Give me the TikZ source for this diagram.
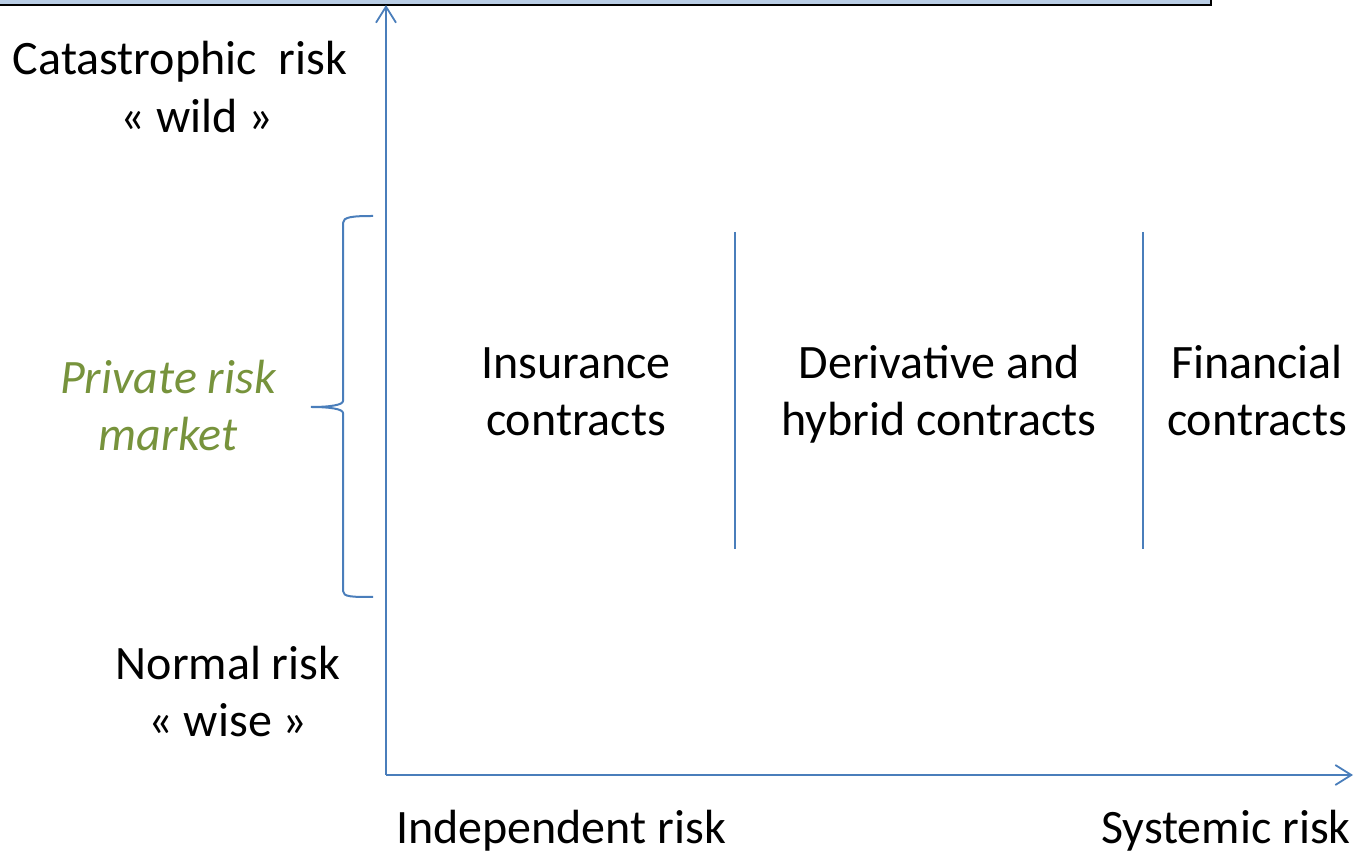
\documentclass[tikz,border=0pt]{standalone}
\usepackage{fontspec}
\setmainfont{Carlito}
\usetikzlibrary{arrows.meta}
\definecolor{axblue}{RGB}{74,126,187}
\definecolor{dgreen}{RGB}{119,147,60}
\definecolor{boxblue}{RGB}{185,205,229}
\tikzset{
  lbl/.style={anchor=base, inner sep=0pt, align=center, font=\fontsize{24}{28.5}\selectfont},
  axis/.style={axblue, line width=0.9pt, -{Straight Barb[length=8pt,width=10pt]}},
  sep/.style={axblue, line width=0.75pt}
}
\begin{document}
\begin{tikzpicture}[x=0.5pt,y=-0.5pt]
\useasboundingbox (0,0) rectangle (1355,854);
% title bar, cut by the page edge
\draw[fill=boxblue, line width=1.25pt] (-20,-20) rectangle (1211,5);
% axes
\coordinate (O) at (386,775);
\coordinate (ytop) at (386,5);
\coordinate (xend) at (1353,775);
\draw[axis] (O) -- (ytop);
\draw[axis] (O) -- (xend);
\foreach \x in {735,1143} {
    \draw[sep] (\x,232) -- (\x,549);
}
% brace
\draw[sep, line width=1pt] (373,216) .. controls (352,216) and (343,217) .. (343,223)
    -- (343,401) .. controls (343,405) and (330,407) .. (311,407)
    .. controls (330,407) and (343,409) .. (343,413)
    -- (343,591) .. controls (343,597) and (352,597) .. (373,597);
% labels (base of a two-line node = last line)
\node[lbl] (cat) at (180,75) {Catastrophic\ \ risk};
\node[lbl] (wild) at (197,133) {« wild »};
\node[lbl, dgreen, font=\fontsize{24}{28.5}\selectfont\itshape] (priv) at (168,451) {Private risk\\market};
\node[lbl] (normal) at (228,737) {Normal risk\\« wise »};
\node[lbl] (ins) at (576,436) {Insurance\\contracts};
\node[lbl] (deriv) at (939,436) {Derivative and\\hybrid contracts};
\node[lbl] (fin) at (1257,436) {Financial\\contracts};
\node[lbl] (indep) at (561,843) {Independent risk};
\node[lbl] (syst) at (1226,843) {Systemic risk};
\end{tikzpicture}
\end{document}
